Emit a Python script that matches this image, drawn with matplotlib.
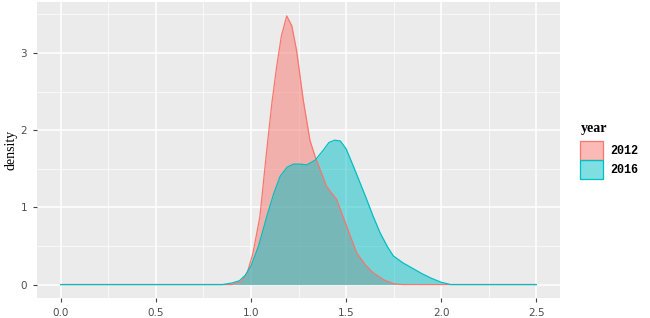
import matplotlib.pyplot as plt
from matplotlib.ticker import MultipleLocator

# density curves
x2012 = [0.0, 0.90, 0.95, 0.98, 1.01, 1.047, 1.083, 1.11, 1.135, 1.16, 1.188, 1.215,
         1.24, 1.275, 1.31, 1.337, 1.37, 1.398, 1.451, 1.504, 1.556, 1.60, 1.644,
         1.70, 1.75, 1.80, 2.5]
y2012 = [0.0, 0.0, 0.04, 0.15, 0.40, 0.88, 1.74, 2.35, 2.82, 3.22, 3.48, 3.35,
         3.03, 2.39, 1.87, 1.66, 1.45, 1.27, 1.10, 0.75, 0.41, 0.26, 0.15,
         0.06, 0.01, 0.0, 0.0]
x2016 = [0.0, 0.85, 0.90, 0.94, 0.97, 1.0, 1.04, 1.083, 1.12, 1.153, 1.19, 1.223,
         1.26, 1.293, 1.337, 1.38, 1.41, 1.44, 1.47, 1.50, 1.539, 1.57, 1.609,
         1.64, 1.679, 1.72, 1.749, 1.80, 1.85, 1.90, 1.95, 2.0, 2.05, 2.5]
y2016 = [0.0, 0.0, 0.02, 0.05, 0.12, 0.24, 0.50, 0.88, 1.18, 1.40, 1.52, 1.56,
         1.56, 1.55, 1.61, 1.74, 1.84, 1.87, 1.86, 1.76, 1.53, 1.34, 1.10,
         0.90, 0.67, 0.48, 0.37, 0.28, 0.21, 0.14, 0.08, 0.03, 0.0, 0.0]
years = ["2012", "2016"]
colors = ["#F8766D", "#00BFC4"]

fig = plt.figure(figsize=(6.5, 3.18), dpi=100)
ax = fig.add_axes([37 / 650, 20 / 318, 523 / 650, 296 / 318])
ax.set_facecolor("#EBEBEB")

for xs, ys, c, lab in zip([x2012, x2016], [y2012, y2016], colors, years):
    ax.fill_between(xs, ys, color=c, alpha=0.5, linewidth=0, label=lab)
    ax.plot(xs, ys, color=c, linewidth=0.9)

ax.set_xlim(-0.125, 2.625)
ax.set_ylim(-0.174, 3.66)
ax.xaxis.set_major_locator(MultipleLocator(0.5))
ax.xaxis.set_minor_locator(MultipleLocator(0.25))
ax.yaxis.set_major_locator(MultipleLocator(1))
ax.yaxis.set_minor_locator(MultipleLocator(0.5))
ax.set_xticks([0, 0.5, 1.0, 1.5, 2.0, 2.5])
ax.set_xticklabels(["0.0", "0.5", "1.0", "1.5", "2.0", "2.5"])
ax.grid(which="major", color="white", linewidth=1.1)
ax.grid(which="minor", color="white", linewidth=0.5)
ax.set_axisbelow(True)
for s in ax.spines.values():
    s.set_visible(False)
ax.tick_params(which="major", length=3, color="#444444", labelsize=7.5,
               labelcolor="#4D4D4D", pad=4)
ax.tick_params(which="minor", length=0)
ax.set_ylabel("density", family="Liberation Serif", fontsize=10, labelpad=2)

leg = ax.legend(loc="upper left", bbox_to_anchor=(1.03, 0.61), frameon=False,
                title="year", handlelength=1.88, handleheight=2.1,
                labelspacing=0.0, handletextpad=0.65, borderaxespad=0,
                prop={"family": "Liberation Mono", "weight": "bold", "size": 8.5})
leg.get_title().set_fontfamily("Liberation Serif")
leg.get_title().set_fontweight("bold")
leg.get_title().set_fontsize(10)
leg._legend_box.align = "left"
leg._legend_box.sep = 4
for h, c in zip(leg.legend_handles, colors):
    h.set_edgecolor(c)
    h.set_linewidth(0.9)

fig.savefig("out.png", dpi=100)
